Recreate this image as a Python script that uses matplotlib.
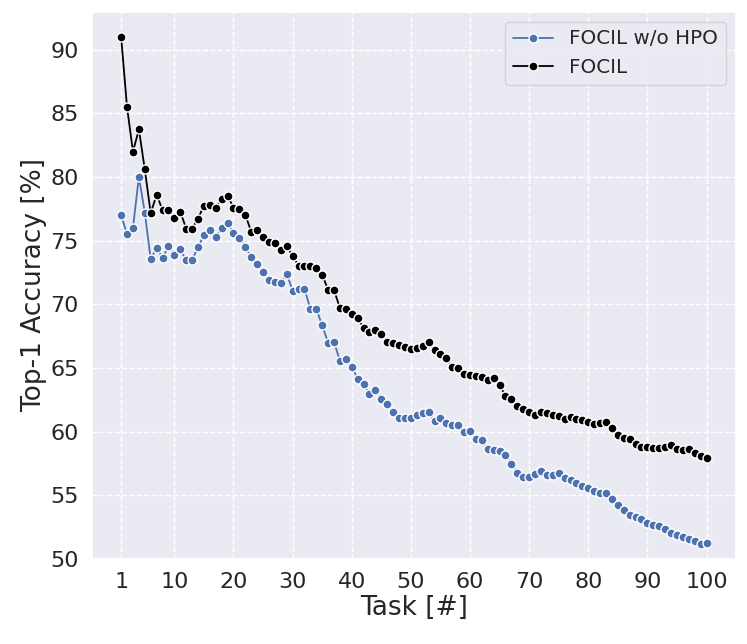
import matplotlib
matplotlib.use("Agg")
import matplotlib.pyplot as plt
import seaborn as sns
import numpy as np

tasks = list(range(1, 101))

focil = [
    91.0, 85.47, 82.0, 83.75, 80.6, 77.16, 78.62, 77.4, 77.45, 76.77,
    77.27, 75.96, 75.96, 76.74, 77.76, 77.81, 77.55, 78.28, 78.54, 77.6,
    77.47, 77.03, 75.72, 75.86, 75.26, 74.87, 74.82, 74.27, 74.56, 73.8,
    73.04, 73.04, 72.99, 72.86, 72.31, 71.16, 71.11, 69.73, 69.65, 69.26,
    68.92, 68.16, 67.85, 67.96, 67.64, 67.04, 66.99, 66.81, 66.66, 66.46,
    66.54, 66.72, 67.03, 66.38, 66.12, 65.76, 65.08, 65.03, 64.5, 64.43,
    64.38, 64.3, 64.04, 64.24, 63.65, 62.81, 62.55, 61.98, 61.77, 61.56,
    61.35, 61.51, 61.43, 61.3, 61.25, 61.0, 61.19, 60.97, 60.89, 60.79,
    60.63, 60.71, 60.79, 60.31, 59.76, 59.48, 59.4, 59.06, 58.82, 58.8,
    58.74, 58.74, 58.8, 58.93, 58.61, 58.56, 58.61, 58.3, 58.09, 57.91,
]

focil_wo_hpo = [
    77.0, 75.52, 76.02, 80.03, 77.21, 73.54, 74.45, 73.65, 74.58, 73.9,
    74.32, 73.46, 73.46, 74.53, 75.42, 75.86, 75.31, 75.99, 76.38, 75.63,
    75.23, 74.5, 73.73, 73.2, 72.57, 71.95, 71.77, 71.66, 72.39, 71.09,
    71.24, 71.24, 69.65, 69.65, 68.35, 66.99, 67.04, 65.58, 65.74, 65.09,
    64.17, 63.76, 62.95, 63.26, 62.56, 62.14, 61.51, 61.04, 61.04, 61.1,
    61.3, 61.43, 61.51, 60.86, 61.04, 60.65, 60.55, 60.52, 60.0, 60.03,
    59.43, 59.38, 58.65, 58.59, 58.52, 58.13, 57.5, 56.77, 56.43, 56.46,
    56.64, 56.88, 56.56, 56.56, 56.72, 56.37, 56.17, 56.0, 55.73, 55.55,
    55.34, 55.16, 55.21, 54.74, 54.21, 53.85, 53.48, 53.27, 53.12, 52.85,
    52.64, 52.59, 52.33, 52.07, 51.88, 51.75, 51.6, 51.44, 51.15, 51.28,
]

xticks = [1, 10, 20, 30, 40, 50, 60, 70, 80, 90, 100]
yticks = [50, 55, 60, 65, 70, 75, 80, 85, 90]

sns.set_theme(style="darkgrid", rc={"grid.linestyle": "--"})
plt.rcParams["font.family"] = ["DejaVu Sans"]

fig, ax = plt.subplots(figsize=(7.47, 6.44), dpi=100)
ax.plot(tasks, focil_wo_hpo, marker="o", color="#4c72b0", lw=1.3, ms=6.5,
        mec="white", mew=1.0, label="FOCIL w/o HPO")
ax.plot(tasks, focil, marker="o", color="black", lw=1.3, ms=6.5,
        mec="white", mew=1.0, label="FOCIL")

ax.set_xticks(xticks)
ax.set_yticks(yticks)
ax.tick_params(labelsize=16)
ax.set_xlabel("Task [#]", fontsize=19, labelpad=2)
ax.set_ylabel("Top-1 Accuracy [%]", fontsize=19, labelpad=2)
ax.set_ylim(50, 93.0)
ax.legend(loc="upper right", fontsize=14.3)

fig.subplots_adjust(left=0.123, right=0.985, top=0.982, bottom=0.132)
fig.savefig("out.png", dpi=100)
